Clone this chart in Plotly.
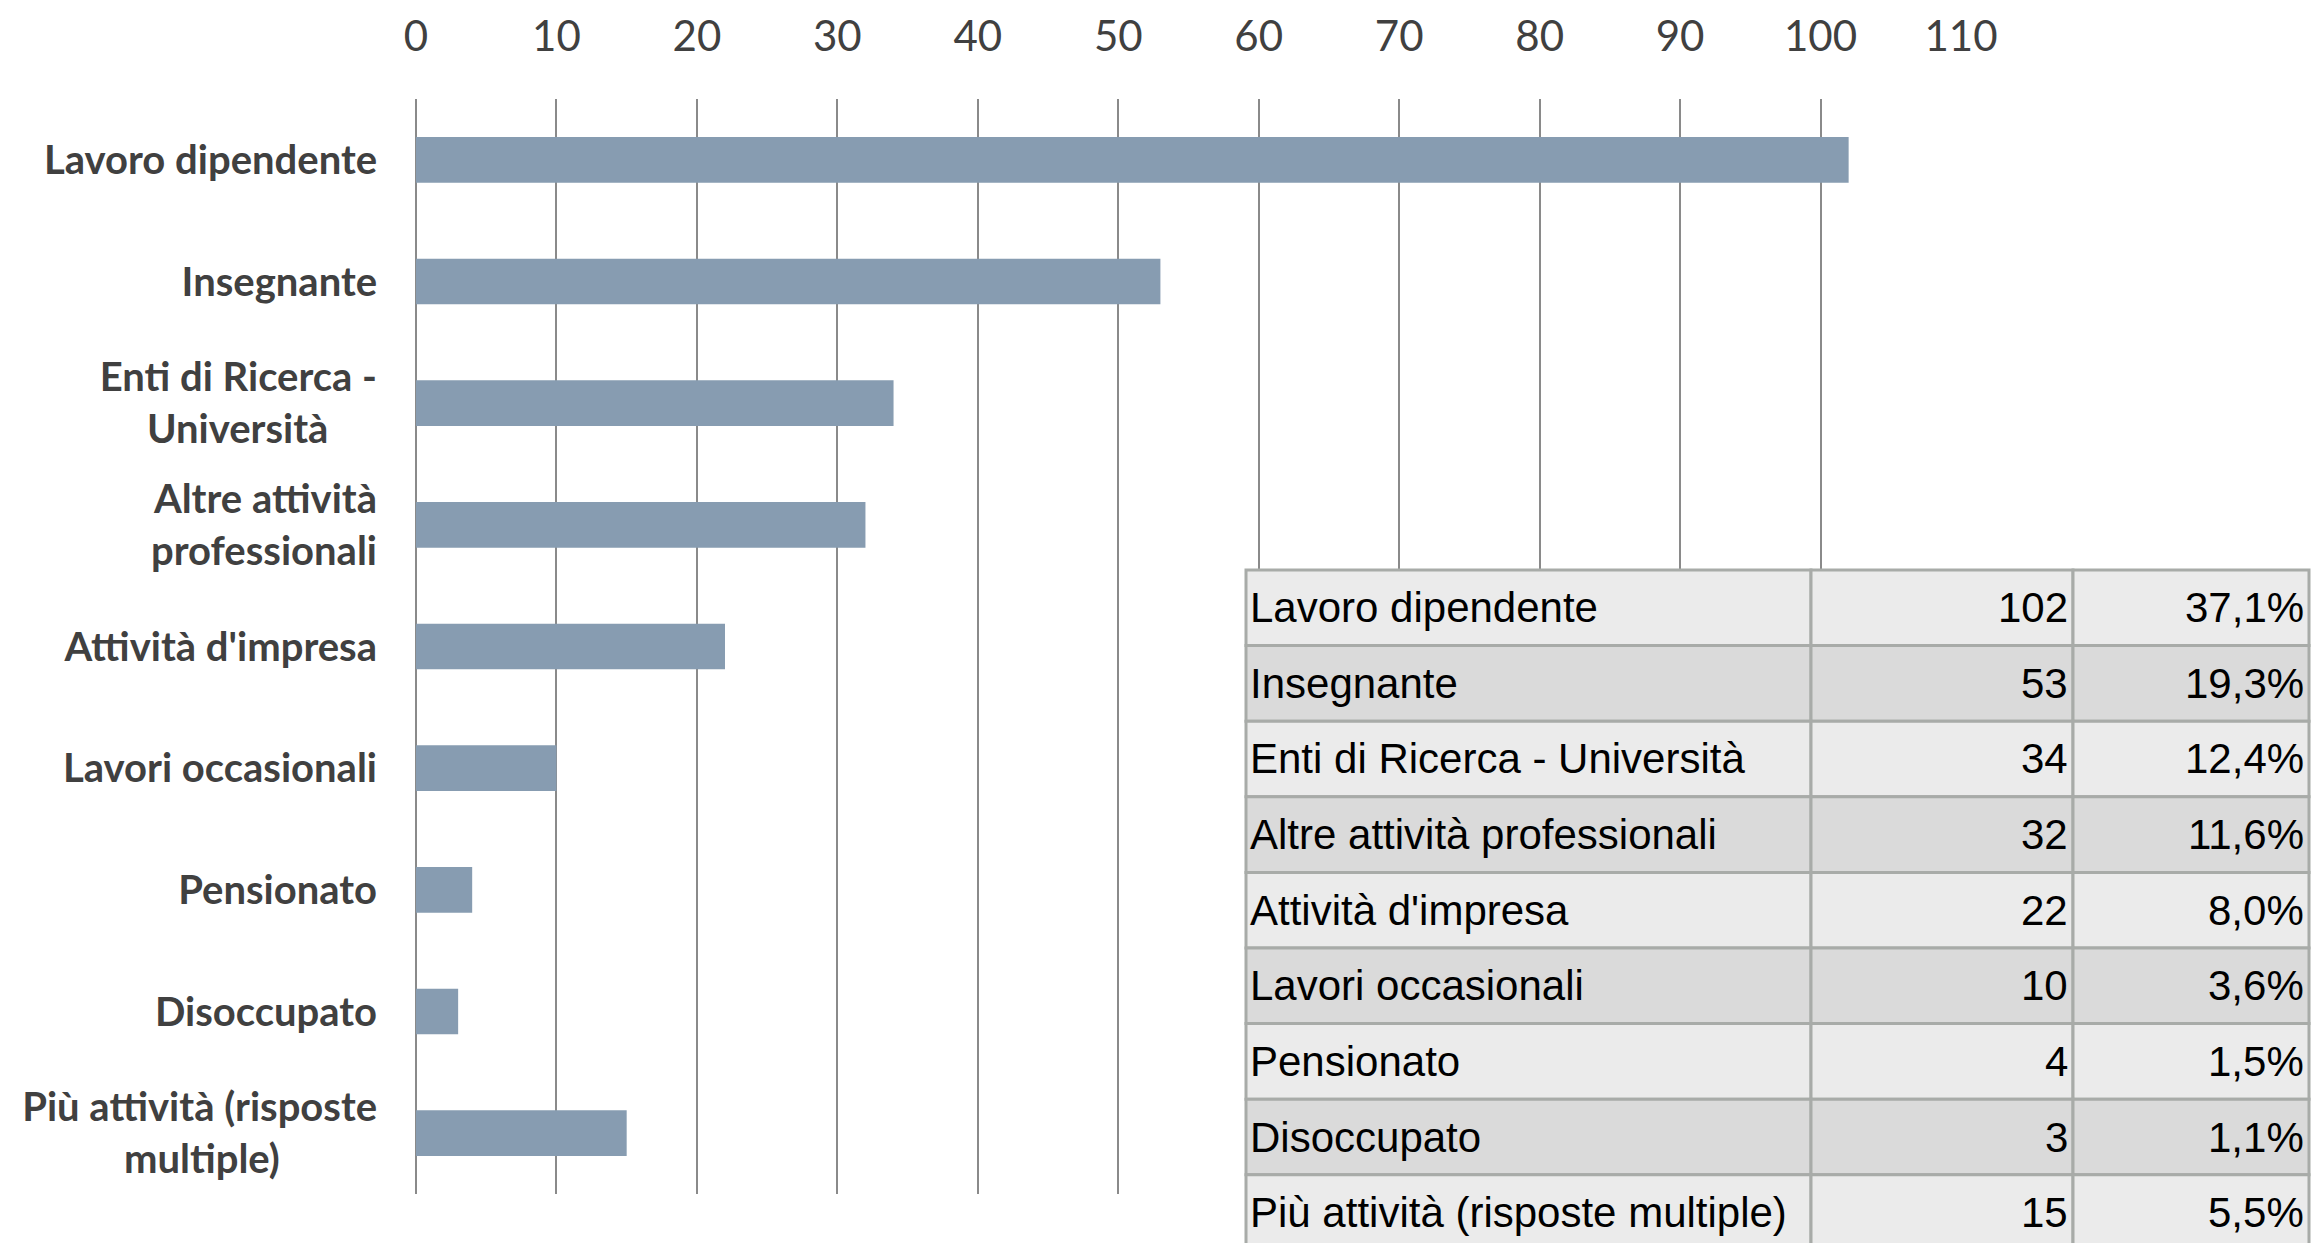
import plotly.graph_objects as go

W, H = 2312, 1243

NB = "\u00a0"
categories = ["Lavoro dipendente", "Insegnante", "Enti di Ricerca - Università",
              "Altre attività professionali", "Attività d'impresa", "Lavori occasionali",
              "Pensionato", "Disoccupato", "Più attività (risposte multiple)"]
# wrapped axis labels; trailing no-break spaces emulate centred multi-line labels
axis_labels = ["Lavoro dipendente", "Insegnante", "Enti di Ricerca -<br>Università" + NB * 5,
               "Altre attività<br>professionali", "Attività d'impresa", "Lavori occasionali",
               "Pensionato", "Disoccupato", "Più attività (risposte<br>multiple)" + NB * 10]
values = [102, 53, 34, 32, 22, 10, 4, 3, 15]
percent_labels = ["37,1%", "19,3%", "12,4%", "11,6%", "8,0%", "3,6%", "1,5%", "1,1%", "5,5%"]
x_ticks = list(range(0, 111, 10))

BAR = "#879cb1"
GRID = "#8a8a8a"
TXT = "#404040"
TBL_LINE = "#a8aba8"
TBL_FILL = ["#ebebeb", "#dadada"]

idx = list(range(len(categories)))

fig = go.Figure()
fig.add_trace(go.Bar(
    x=values, y=idx, orientation="h", width=0.375,
    marker=dict(color=BAR, line=dict(width=0)),
    hoverinfo="skip", showlegend=False,
))

# ---- table (drawn in paper coordinates, margins are zero so paper == page) ----
col_edges = [1246, 1811, 2073, 2309]          # px
row_top, row_h = 570, 75.6                    # px
col_text = [categories, [str(v) for v in values], percent_labels]
col_align = ["left", "right", "right"]
px = lambda v: v / W
py = lambda v: 1 - v / H

shapes, annots = [], []
for r in idx:
    y0, y1 = row_top + r * row_h, row_top + (r + 1) * row_h
    for c in range(3):
        x0, x1 = col_edges[c], col_edges[c + 1]
        shapes.append(dict(type="rect", xref="paper", yref="paper",
                           x0=px(x0), x1=px(x1), y0=py(y1), y1=py(y0),
                           fillcolor=TBL_FILL[r % 2],
                           line=dict(color=TBL_LINE, width=3), layer="above"))
        if col_align[c] == "left":
            ax, anchor = x0 + 3, "left"
        else:
            ax, anchor = x1 - 4, "right"
        annots.append(dict(xref="paper", yref="paper", x=px(ax), y=py((y0 + y1) / 2),
                           text=col_text[c][r], showarrow=False,
                           xanchor=anchor, yanchor="middle", borderpad=0,
                           font=dict(family="Liberation Sans, Arial", size=42, color="#000000")))

fig.update_layout(
    width=W, height=H,
    margin=dict(l=0, r=0, t=0, b=0),
    paper_bgcolor="white", plot_bgcolor="white",
    shapes=shapes, annotations=annots,
    xaxis=dict(
        domain=[416 / W, 1961 / W], range=[0, 110], side="top",
        tickvals=x_ticks, ticktext=[str(t) for t in x_ticks],
        showgrid=True, gridcolor=GRID, gridwidth=1.5,
        zeroline=True, zerolinecolor=GRID, zerolinewidth=1.5,
        showline=False, ticks="", automargin=False,
        tickfont=dict(family="Lato", size=42, color=TXT),
        ticklabelstandoff=39,
    ),
    yaxis=dict(
        domain=[1 - 1194 / H, 1 - 99 / H], range=[8.5, -0.5],
        tickvals=idx, ticktext=axis_labels,
        showgrid=False, zeroline=False, showline=False, ticks="",
        automargin=False,
        tickfont=dict(family="Lato", size=40, color=TXT, weight="bold"),
        ticklabelstandoff=38,
    ),
)

fig.write_html("out.html", config={"displayModeBar": False},
               post_script="document.body.style.margin='0px';document.body.style.overflow='hidden';")
